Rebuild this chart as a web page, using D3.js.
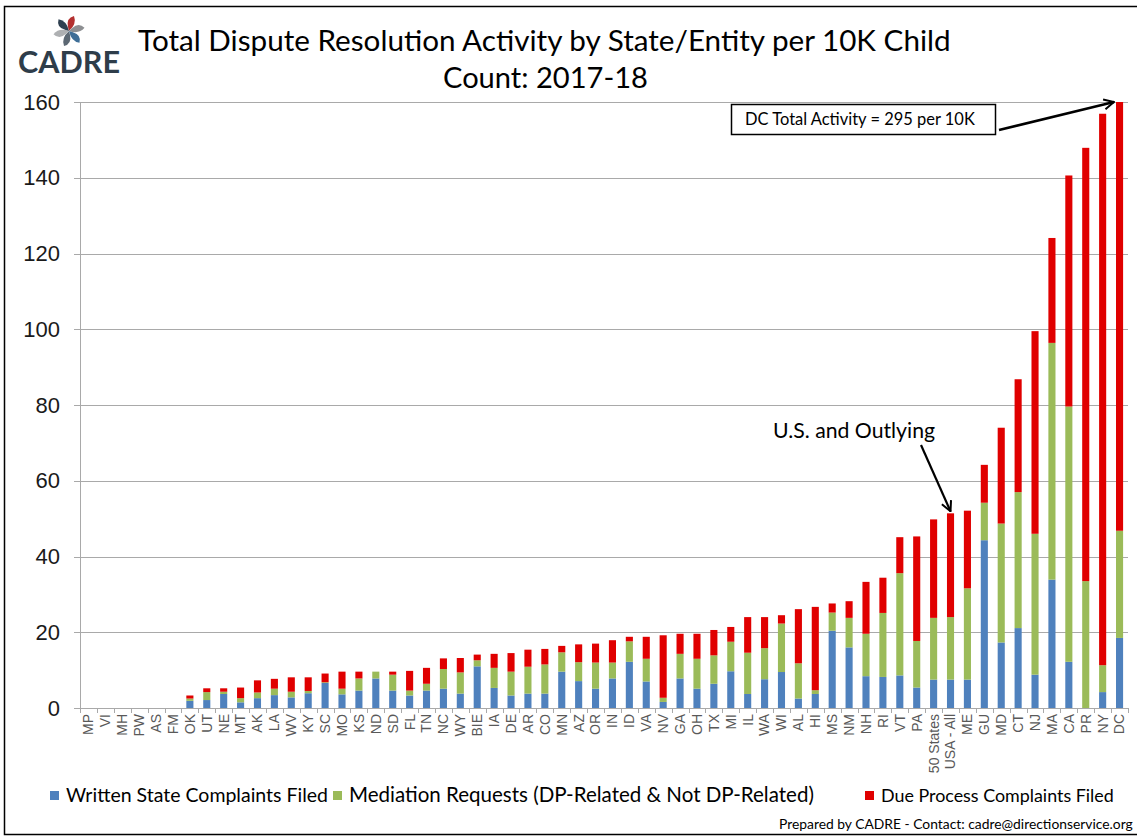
<!doctype html>
<html>
<head>
<meta charset="UTF-8" />
<title>Total Dispute Resolution Activity by State/Entity per 10K Child</title>
<script src="https://d3js.org/d3.v7.min.js"></script>
<style type="text/css">
body {
	margin: 0;
	background: #fff;
}
svg {
	display: block;
	font-family: Lato, "Open Sans", sans-serif;
}
.grid line {
	stroke: #a9a9a9;
	stroke-width: 1px;
	shape-rendering: crispEdges;
}
.x.axis text {
	font-family: "Liberation Sans", Arial, sans-serif;
	font-size: 14px;
	fill: #595959;
}
.y.axis text {
	font-size: 22px;
	fill: #1a1a1a;
}
</style>
</head>
<body>
<script>
	// data (per 10K children)
	var states = ["MP", "VI", "MH", "PW", "AS", "FM", "OK", "UT", "NE", "MT",
		"AK", "LA", "WV", "KY", "SC", "MO", "KS", "ND", "SD", "FL",
		"TN", "NC", "WY", "BIE", "IA", "DE", "AR", "CO", "MN", "AZ",
		"OR", "IN", "ID", "VA", "NV", "GA", "OH", "TX", "MI", "IL",
		"WA", "WI", "AL", "HI", "MS", "NM", "NH", "RI", "VT", "PA",
		"50 States", "USA - All", "ME", "GU", "MD", "CT", "NJ", "MA", "CA", "PR",
		"NY", "DC"];

	var written = [0, 0, 0, 0, 0, 0, 1.9, 2.1, 3.7, 1.5,
		2.6, 3.4, 2.8, 3.9, 6.6, 3.6, 4.6, 7.8, 4.6, 3.3,
		4.6, 5.1, 3.8, 11.0, 5.3, 3.3, 3.8, 3.8, 9.6, 7.1,
		5.1, 7.8, 12.2, 7.0, 1.6, 7.8, 5.1, 6.4, 9.7, 3.7,
		7.6, 9.5, 2.5, 3.7, 20.4, 16.0, 8.4, 8.2, 8.6, 5.4,
		7.5, 7.5, 7.5, 44.3, 17.3, 21.1, 8.8, 33.9, 12.2, 0,
		4.2, 18.5];

	var mediation = [0, 0, 0, 0, 0, 0, 0.6, 2.1, 0.6, 1.1,
		1.5, 1.7, 1.5, 0.6, 0.2, 1.5, 3.2, 1.8, 4.2, 1.3,
		1.8, 5.2, 5.6, 1.6, 5.3, 6.3, 7.1, 7.7, 5.1, 5.0,
		6.9, 4.2, 5.4, 6.0, 1.1, 6.5, 7.9, 7.5, 7.8, 10.9,
		8.2, 12.8, 9.3, 1.0, 4.8, 7.8, 11.2, 16.9, 27.0, 12.3,
		16.3, 16.5, 24.1, 9.9, 31.4, 35.9, 37.2, 62.5, 67.4, 33.5,
		7.1, 28.3];

	var dueProcess = [0, 0, 0, 0, 0, 0, 0.8, 1.0, 0.9, 2.8,
		3.2, 2.6, 3.8, 3.6, 2.3, 4.5, 1.8, 0, 0.8, 5.2,
		4.2, 2.8, 3.8, 1.5, 3.7, 4.9, 4.5, 4.1, 1.7, 4.7,
		5.0, 5.9, 1.2, 5.8, 16.5, 5.3, 6.6, 6.7, 3.9, 9.4,
		8.2, 2.2, 14.3, 22.0, 2.4, 4.4, 13.7, 9.3, 9.5, 27.6,
		26.0, 27.4, 20.5, 10.0, 25.3, 29.8, 53.5, 27.7, 61.0, 114.4,
		145.6, 248.2];

	var seriesNames = ["Written State Complaints Filed",
		"Mediation Requests (DP-Related & Not DP-Related)",
		"Due Process Complaints Filed"];
	var seriesColors = ["#4f81bd", "#9bbb59", "#e00000"];
	var yTicks = [0, 20, 40, 60, 80, 100, 120, 140, 160];

	var W = 1137, H = 836;
	var margin = {top: 102, right: 9, bottom: 128, left: 80},
		width = W - margin.left - margin.right,
		height = H - margin.top - margin.bottom;

	var rows = states.map(function(s, i) {
		return {state: s, written: written[i], mediation: mediation[i], dueProcess: dueProcess[i]};
	});
	var keys = ["written", "mediation", "dueProcess"];
	var stacked = d3.stack().keys(keys)(rows);

	var x = d3.scaleBand()
		.domain(states)
		.range([0, width])
		.paddingInner(0.58)
		.paddingOuter(0.29);

	var y = d3.scaleLinear()
		.domain([0, 160])
		.range([height, 0]);

	var svg = d3.select("body").append("svg")
		.attr("width", W)
		.attr("height", H);

	// sets a font size so the text fills the given width
	function fitWidth(sel, w) {
		var fs = parseFloat(sel.attr("font-size"));
		var cur = sel.node().getComputedTextLength();
		sel.attr("font-size", (fs * w / cur).toFixed(2));
		return sel;
	}

	svg.append("rect")
		.attr("x", 4.5)
		.attr("y", 6.5)
		.attr("width", 1150)
		.attr("height", 828)
		.attr("fill", "none")
		.attr("stroke", "#000")
		.attr("stroke-width", 1.5);

	var defs = svg.append("defs");
	defs.append("clipPath")
			.attr("id", "clip")
		.append("rect")
			.attr("width", width)
			.attr("height", height);
	defs.append("marker")
			.attr("id", "arrow")
			.attr("viewBox", "0 0 12 12")
			.attr("refX", 11)
			.attr("refY", 6)
			.attr("markerWidth", 12)
			.attr("markerHeight", 12)
			.attr("markerUnits", "userSpaceOnUse")
			.attr("orient", "auto")
		.append("path")
			.attr("d", "M1,1 L11,6 L1,11")
			.attr("fill", "none")
			.attr("stroke", "#000")
			.attr("stroke-width", 2);

	// logo
	var logo = svg.append("g").attr("transform", "translate(69,31)");
	var bladeColors = ["#b3302f", "#8d8f92", "#3e6e97", "#5c6873", "#aeb0b2", "#2f4050"];
	bladeColors.forEach(function(c, i) {
		logo.append("path")
			.attr("d", "M0,0 Q8,-7 5,-15 Q-3,-13 -1,-4 Z")
			.attr("fill", c)
			.attr("transform", "rotate(" + (i * 60) + ")");
	});
	var cadre = svg.append("text")
		.attr("x", 18)
		.attr("y", 73)
		.attr("font-size", 28)
		.attr("font-weight", "bold")
		.attr("fill", "#2e3d4a")
		.text("CADRE");
	fitWidth(cadre, 102);

	// title
	var t1 = svg.append("text")
		.attr("x", 138)
		.attr("y", 51)
		.attr("font-size", 30)
		.attr("fill", "#000")
		.text("Total Dispute Resolution Activity by State/Entity per 10K Child");
	fitWidth(t1, 813);
	var t2 = svg.append("text")
		.attr("x", 443)
		.attr("y", 88)
		.attr("font-size", 30)
		.attr("fill", "#000")
		.text("Count: 2017-18");
	fitWidth(t2, 205);

	var g = svg.append("g")
		.attr("transform", "translate(" + margin.left + "," + margin.top + ")");

	// grid lines
	g.append("g")
			.attr("class", "grid")
		.selectAll("line")
		.data(yTicks)
		.enter().append("line")
			.attr("x1", -6)
			.attr("x2", width)
			.attr("y1", function(d) { return Math.round(y(d)) + 0.5; })
			.attr("y2", function(d) { return Math.round(y(d)) + 0.5; });

	// y axis
	var yAxis = d3.axisLeft(y)
		.tickValues(yTicks)
		.tickSize(0)
		.tickPadding(20);
	g.append("g")
		.attr("class", "y axis")
		.call(yAxis)
		.call(function(a) { a.select(".domain").remove(); });

	g.append("line")
		.attr("x1", 0.5).attr("x2", 0.5)
		.attr("y1", 0).attr("y2", height)
		.attr("stroke", "#a9a9a9");

	// bars
	g.append("g")
			.attr("clip-path", "url(#clip)")
		.selectAll("g")
		.data(stacked)
		.enter().append("g")
			.attr("fill", function(d, i) { return seriesColors[i]; })
		.selectAll("rect")
		.data(function(d) { return d; })
		.enter().append("rect")
			.attr("x", function(d) { return x(d.data.state); })
			.attr("width", x.bandwidth())
			.attr("y", function(d) { return y(d[1]); })
			.attr("height", function(d) { return Math.max(0, y(d[0]) - y(d[1])); });

	// x axis: ticks between categories, labels rotated
	var xg = g.append("g")
		.attr("class", "x axis")
		.attr("transform", "translate(0," + height + ")");
	xg.selectAll("line.tick")
		.data(d3.range(states.length + 1))
		.enter().append("line")
			.attr("class", "tick")
			.attr("x1", function(i) { return Math.round(i * x.step()) + 0.5; })
			.attr("x2", function(i) { return Math.round(i * x.step()) + 0.5; })
			.attr("y1", 0)
			.attr("y2", 5)
			.attr("stroke", "#a9a9a9");
	xg.selectAll("text")
		.data(states)
		.enter().append("text")
			.attr("transform", function(d) {
				return "translate(" + (x(d) + x.bandwidth() / 2) + ",6) rotate(-90)";
			})
			.attr("dy", "0.35em")
			.style("text-anchor", "end")
			.text(function(d) { return d; });

	// annotations
	var dcX = margin.left + x("DC");
	svg.append("rect")
		.attr("x", 731.5)
		.attr("y", 104.5)
		.attr("width", 264)
		.attr("height", 30)
		.attr("fill", "#fff")
		.attr("stroke", "#000")
		.attr("stroke-width", 1.5);
	var dcText = svg.append("text")
		.attr("x", 745)
		.attr("y", 125)
		.attr("font-size", 16)
		.attr("fill", "#000")
		.text("DC Total Activity = 295 per 10K");
	fitWidth(dcText, 230);
	svg.append("line")
		.attr("x1", 999)
		.attr("y1", 130)
		.attr("x2", dcX - 2)
		.attr("y2", margin.top + y(160))
		.attr("stroke", "#000")
		.attr("stroke-width", 2.5)
		.attr("marker-end", "url(#arrow)");

	var usaX = margin.left + x("USA - All") + x.bandwidth() / 2;
	var usaTop = margin.top + y(written[51] + mediation[51] + dueProcess[51]);
	var usText = svg.append("text")
		.attr("x", 773)
		.attr("y", 438)
		.attr("font-size", 20)
		.attr("fill", "#000")
		.text("U.S. and Outlying");
	fitWidth(usText, 162);
	svg.append("line")
		.attr("x1", 921)
		.attr("y1", 445)
		.attr("x2", usaX)
		.attr("y2", usaTop - 2)
		.attr("stroke", "#000")
		.attr("stroke-width", 2.2)
		.attr("marker-end", "url(#arrow)");

	// legend
	var legendX = [50, 333, 865],
		legendW = [262, 465, 233];
	seriesNames.forEach(function(name, i) {
		svg.append("rect")
			.attr("x", legendX[i])
			.attr("y", 791)
			.attr("width", 9)
			.attr("height", 9)
			.attr("fill", seriesColors[i]);
		var lt = svg.append("text")
			.attr("x", legendX[i] + 16)
			.attr("y", 802)
			.attr("font-size", 18)
			.attr("fill", "#000")
			.text(name);
		fitWidth(lt, legendW[i]);
	});

	var foot = svg.append("text")
		.attr("x", 779)
		.attr("y", 829)
		.attr("font-size", 13)
		.attr("fill", "#000")
		.text("Prepared by CADRE - Contact: cadre@directionservice.org");
	fitWidth(foot, 354);
</script>
</body>
</html>
